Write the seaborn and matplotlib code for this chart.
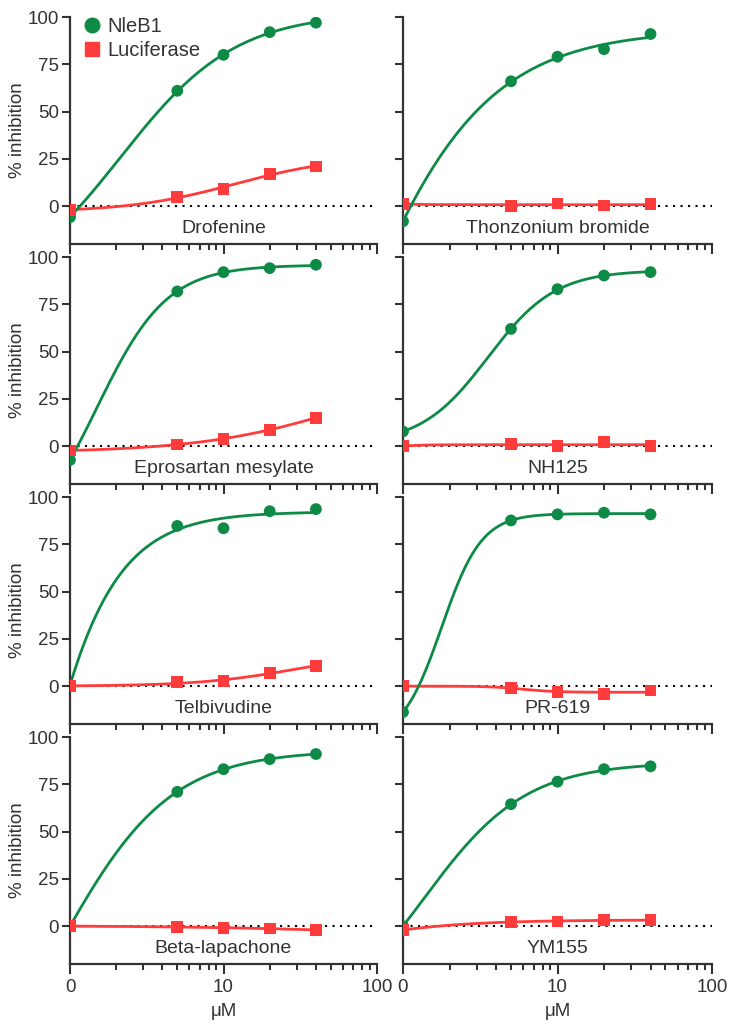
import numpy as np
import pandas as pd
import seaborn as sns
import matplotlib.pyplot as plt
from matplotlib.lines import Line2D

# concentration in uM, 0 is drawn at 1 on the log axis
conc = [1, 5, 10, 20, 40]

compounds = ["Drofenine", "Thonzonium bromide",
             "Eprosartan mesylate", "NH125",
             "Telbivudine", "PR-619",
             "Beta-lapachone", "YM155"]

nleb1_values = [
    [-5.8, 61.0, 80.0, 92.0, 97.0],   # Drofenine
    [-8.0, 66.0, 79.0, 83.0, 91.0],   # Thonzonium bromide
    [-7.3, 81.8, 92.0, 94.1, 95.9],   # Eprosartan mesylate
    [7.8, 62.0, 83.0, 90.2, 92.0],    # NH125
    [0.5, 84.7, 83.5, 92.5, 93.6],    # Telbivudine
    [-13.7, 87.6, 90.8, 91.7, 90.8],  # PR-619
    [0.0, 71.0, 83.0, 88.3, 91.0],    # Beta-lapachone
    [0.0, 64.5, 76.4, 83.0, 84.5],    # YM155
]

luciferase_values = [
    [-2.0, 5.0, 9.2, 17.2, 21.0],
    [1.2, 0.2, 1.4, 0.3, 1.2],
    [-2.3, 0.9, 3.9, 8.7, 15.0],
    [0.0, 1.1, 0.0, 2.0, 0.0],
    [0.0, 2.0, 2.8, 6.9, 10.8],
    [0.0, -1.0, -3.0, -4.0, -2.3],
    [0.0, -0.3, -1.0, -1.2, -2.0],
    [-2.0, 2.3, 2.5, 3.2, 3.2],
]

green = "#0e8a47"
red = "#ff3b3b"
dark = "#333333"


def hill_fit(x, y):
    # small least squares fit of a 4 parameter logistic (grid over ec50 and slope)
    lx = np.log10(np.asarray(x, float))
    y = np.asarray(y, float)
    best = None
    for logc in np.linspace(-0.5, 2.5, 121):
        for h in np.linspace(0.4, 4.0, 73):
            f = 1.0 / (1.0 + 10 ** ((logc - lx) * h))
            A = np.column_stack([np.ones_like(f), f])
            coef = np.linalg.lstsq(A, y, rcond=None)[0]
            err = np.sum((A @ coef - y) ** 2)
            if best is None or err < best[0]:
                best = (err, logc, h, coef)
    _, logc, h, coef = best

    def curve(xx):
        f = 1.0 / (1.0 + 10 ** ((logc - np.log10(xx)) * h))
        return coef[0] + coef[1] * f
    return curve


sns.set_style("ticks")
plt.rcParams['font.family'] = ['Liberation Sans', 'DejaVu Sans']
plt.rcParams['text.color'] = dark
plt.rcParams['axes.labelcolor'] = dark
plt.rcParams['xtick.color'] = dark
plt.rcParams['ytick.color'] = dark
plt.rcParams['axes.edgecolor'] = dark

W, H = 737, 1031
fig = plt.figure(figsize=(W / 100, H / 100), dpi=100)

col_left = [70, 403]
col_width = [307, 309]
row_top = [17, 257, 497, 737]
ax_h = 227

xs = np.logspace(0, np.log10(40), 200)

for i, name in enumerate(compounds):
    r, c = divmod(i, 2)
    ax = fig.add_axes([col_left[c] / W, 1 - (row_top[r] + ax_h) / H,
                       col_width[c] / W, ax_h / H])
    ax.set_xscale("log")
    ax.axhline(0, color="black", lw=1.5, ls=(0, (1, 2.6)), zorder=1)

    df = pd.DataFrame({
        "conc": conc * 2,
        "value": nleb1_values[i] + luciferase_values[i],
        "target": ["NleB1"] * 5 + ["Luciferase"] * 5,
    })
    for target, col in [("Luciferase", red), ("NleB1", green)]:
        sub = df[df.target == target]
        fit = hill_fit(sub.conc, sub.value)
        sns.lineplot(x=xs, y=fit(xs), color=col, lw=2, sort=False,
                     estimator=None, ax=ax, zorder=2)
    sns.scatterplot(data=df, x="conc", y="value", hue="target", style="target",
                    palette={"NleB1": green, "Luciferase": red},
                    markers={"NleB1": "o", "Luciferase": "s"},
                    s=72, linewidth=0, legend=False, ax=ax, zorder=3)

    ax.set_xlim(1, 100)
    ax.set_ylim(-20, 100)
    ax.set_yticks([0, 25, 50, 75, 100])
    ax.set_xticks([1, 10, 100])
    ax.tick_params(axis="both", which="major", width=1.5, length=6,
                   labelsize=13.5, pad=2)
    ax.tick_params(axis="x", which="major", length=7, pad=4)
    ax.tick_params(axis="x", which="minor", width=1.5, length=4)
    for s in ["left", "bottom"]:
        ax.spines[s].set_linewidth(1.6)
    sns.despine(ax=ax)

    if r == 3:
        ax.set_xticklabels(["0", "10", "100"])
        ax.set_xlabel("\u03bcM", fontsize=13.5, labelpad=5)
    else:
        ax.set_xticklabels([])
        ax.set_xlabel("")
    ax.xaxis.set_minor_formatter(plt.NullFormatter())
    if c == 0:
        ax.set_ylabel("% inhibition", fontsize=13.5, labelpad=1)
    else:
        ax.set_yticklabels([])
        ax.set_ylabel("")

    ax.text(10, -12, name, ha="center", va="center", fontsize=14, color=dark)

    if i == 0:
        handles = [Line2D([], [], marker="o", color=green, ls="", markersize=10.5),
                   Line2D([], [], marker="s", color=red, ls="", markersize=10.5)]
        ax.legend(handles, ["NleB1", "Luciferase"], loc="upper left",
                  bbox_to_anchor=(0.012, 1.035), frameon=False, fontsize=14.5,
                  handletextpad=0.25, handlelength=1.0, labelspacing=0.25,
                  borderaxespad=0)

fig.savefig("out.png", dpi=100)
